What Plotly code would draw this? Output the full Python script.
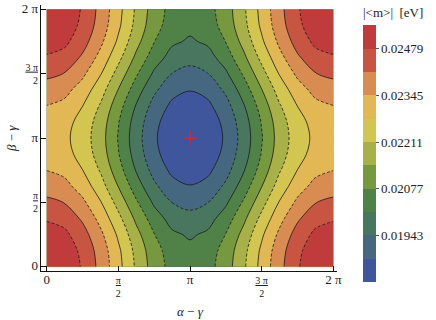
import plotly.graph_objects as go

# grid positions in units of pi
x_pi = [0, 0.125, 0.25, 0.375, 0.5, 0.625, 0.75, 0.875, 1.0,
        1.125, 1.25, 1.375, 1.5, 1.625, 1.75, 1.875, 2.0]
y_pi = [0, 0.125, 0.25, 0.375, 0.5, 0.625, 0.75, 0.875, 1.0,
        1.125, 1.25, 1.375, 1.5, 1.625, 1.75, 1.875, 2.0]

# |<m>| [eV], rows = beta-gamma, columns = alpha-gamma
m_eff = [
    [0.02545, 0.02528, 0.02472, 0.02392, 0.02300, 0.02200, 0.02112, 0.02054, 0.02035, 0.02054, 0.02112, 0.02200, 0.02300, 0.02392, 0.02472, 0.02528, 0.02545],
    [0.02536, 0.02519, 0.02463, 0.02384, 0.02291, 0.02191, 0.02103, 0.02045, 0.02026, 0.02045, 0.02103, 0.02191, 0.02291, 0.02384, 0.02463, 0.02519, 0.02536],
    [0.02510, 0.02494, 0.02439, 0.02360, 0.02267, 0.02166, 0.02079, 0.02021, 0.02002, 0.02021, 0.02079, 0.02166, 0.02267, 0.02360, 0.02439, 0.02494, 0.02510],
    [0.02472, 0.02455, 0.02402, 0.02324, 0.02230, 0.02129, 0.02042, 0.01985, 0.01965, 0.01985, 0.02042, 0.02129, 0.02230, 0.02324, 0.02402, 0.02455, 0.02472],
    [0.02427, 0.02410, 0.02359, 0.02283, 0.02186, 0.02086, 0.01999, 0.01942, 0.01922, 0.01942, 0.01999, 0.02086, 0.02186, 0.02283, 0.02359, 0.02410, 0.02427],
    [0.02382, 0.02366, 0.02315, 0.02241, 0.02142, 0.02042, 0.01956, 0.01898, 0.01879, 0.01898, 0.01956, 0.02042, 0.02142, 0.02241, 0.02315, 0.02366, 0.02382],
    [0.02344, 0.02327, 0.02279, 0.02205, 0.02105, 0.02005, 0.01919, 0.01862, 0.01842, 0.01862, 0.01919, 0.02005, 0.02105, 0.02205, 0.02279, 0.02327, 0.02344],
    [0.02318, 0.02302, 0.02254, 0.02181, 0.02081, 0.01980, 0.01895, 0.01838, 0.01818, 0.01838, 0.01895, 0.01980, 0.02081, 0.02181, 0.02254, 0.02302, 0.02318],
    [0.02309, 0.02293, 0.02245, 0.02173, 0.02072, 0.01971, 0.01886, 0.01829, 0.01810, 0.01829, 0.01886, 0.01971, 0.02072, 0.02173, 0.02245, 0.02293, 0.02309],
    [0.02318, 0.02302, 0.02254, 0.02181, 0.02081, 0.01980, 0.01895, 0.01838, 0.01818, 0.01838, 0.01895, 0.01980, 0.02081, 0.02181, 0.02254, 0.02302, 0.02318],
    [0.02344, 0.02327, 0.02279, 0.02205, 0.02105, 0.02005, 0.01919, 0.01862, 0.01842, 0.01862, 0.01919, 0.02005, 0.02105, 0.02205, 0.02279, 0.02327, 0.02344],
    [0.02382, 0.02366, 0.02315, 0.02241, 0.02142, 0.02042, 0.01956, 0.01898, 0.01879, 0.01898, 0.01956, 0.02042, 0.02142, 0.02241, 0.02315, 0.02366, 0.02382],
    [0.02427, 0.02410, 0.02359, 0.02283, 0.02186, 0.02086, 0.01999, 0.01942, 0.01922, 0.01942, 0.01999, 0.02086, 0.02186, 0.02283, 0.02359, 0.02410, 0.02427],
    [0.02472, 0.02455, 0.02402, 0.02324, 0.02230, 0.02129, 0.02042, 0.01985, 0.01965, 0.01985, 0.02042, 0.02129, 0.02230, 0.02324, 0.02402, 0.02455, 0.02472],
    [0.02510, 0.02494, 0.02439, 0.02360, 0.02267, 0.02166, 0.02079, 0.02021, 0.02002, 0.02021, 0.02079, 0.02166, 0.02267, 0.02360, 0.02439, 0.02494, 0.02510],
    [0.02536, 0.02519, 0.02463, 0.02384, 0.02291, 0.02191, 0.02103, 0.02045, 0.02026, 0.02045, 0.02103, 0.02191, 0.02291, 0.02384, 0.02463, 0.02519, 0.02536],
    [0.02545, 0.02528, 0.02472, 0.02392, 0.02300, 0.02200, 0.02112, 0.02054, 0.02035, 0.02054, 0.02112, 0.02200, 0.02300, 0.02392, 0.02472, 0.02528, 0.02545],
]

# contour levels
level_min = 0.01809
level_max = 0.02546
level_step = 0.00067
solid_start, solid_end = 0.01876, 0.02412
dash_start, dash_end = 0.01943, 0.02479

cb_tickvals = [0.01943, 0.02077, 0.02211, 0.02345, 0.02479]
cb_ticktext = ["0.01943", "0.02077", "0.02211", "0.02345", "0.02479"]

# band colors, lowest to highest
band_colors = ["#3f569c", "#456880", "#48765f", "#508248", "#76983e", "#a8b048",
               "#d2c650", "#e2b854", "#d88c52", "#c85442", "#c03c3c"]

min_point_x = [1.0]
min_point_y = [1.0]

tick_pi = [0, 0.5, 1, 1.5, 2]
big = "<span style='font-size:13px'>%s</span>"
tick_text = [big % "0", "<u>π</u><br>2", big % "π", "<u>3 π</u><br>2", big % "2 π"]

n = len(band_colors)
colorscale = [[0, band_colors[0]]]
for k, c in enumerate(band_colors):
    colorscale.append([(k + 0.5) / n, c])
colorscale.append([1, band_colors[-1]])

FONT = "Liberation Serif"

fig = go.Figure()
fig.add_trace(go.Contour(
    x=x_pi, y=y_pi, z=m_eff,
    colorscale=colorscale, zmin=level_min, zmax=level_max + 0.00001,
    autocontour=False,
    contours=dict(start=level_min, end=level_max, size=level_step,
                  coloring="fill", showlines=False),
    line=dict(width=0, smoothing=1.0),
    hoverinfo="skip",
    colorbar=dict(
        x=1.0878, xanchor="left", xpad=0,
        y=0.4417, yanchor="middle", ypad=0,
        len=257, lenmode="pixels", thickness=13, thicknessmode="pixels",
        outlinewidth=0, borderwidth=0,
        tickvals=cb_tickvals, ticktext=cb_ticktext,
        ticks="outside", ticklen=3, tickcolor="#555",
        tickfont=dict(family=FONT, size=13, color="#222"),
    ),
))
fig.add_trace(go.Contour(
    x=x_pi, y=y_pi, z=m_eff, autocontour=False, showscale=False,
    contours=dict(start=solid_start, end=solid_end, size=2 * level_step, coloring="none"),
    line=dict(color="#1a1a1a", width=0.8, smoothing=1.0),
    hoverinfo="skip",
))
fig.add_trace(go.Contour(
    x=x_pi, y=y_pi, z=m_eff, autocontour=False, showscale=False,
    contours=dict(start=dash_start, end=dash_end, size=2 * level_step, coloring="none"),
    line=dict(color="#1a1a1a", width=0.8, smoothing=1.0, dash="3px,2px"),
    hoverinfo="skip",
))
fig.add_trace(go.Scatter(
    x=min_point_x, y=min_point_y, mode="markers",
    marker=dict(symbol="cross-thin", size=10, line=dict(color="#e8202a", width=1.5)),
    hoverinfo="skip", showlegend=False,
))

xr = [-0.0398, 2.0258]
yr = [-0.0334, 2.0334]
PI = 3.141592653589793

common = dict(showgrid=False, zeroline=False, showline=True, linecolor="#111", linewidth=1)
fig.update_layout(
    width=436, height=320,
    margin=dict(l=41, r=99, t=5, b=49, autoexpand=False),
    paper_bgcolor="white", plot_bgcolor="white",
    showlegend=False,
    xaxis=dict(range=xr, tickvals=tick_pi, ticktext=tick_text, ticks="inside", ticklen=5,
               tickcolor="#111", tickfont=dict(family=FONT, size=10, color="#222"), **common),
    yaxis=dict(range=yr, tickvals=tick_pi, ticktext=tick_text, ticks="inside", ticklen=5,
               tickcolor="#111", tickfont=dict(family=FONT, size=10, color="#222"), **common),
    xaxis2=dict(range=[xr[0] * PI, xr[1] * PI], overlaying="x", side="top", anchor="y",
                showticklabels=False, ticks="inside", ticklen=4, tickcolor="#111", tick0=0, dtick=1,
                minor=dict(ticks="inside", ticklen=2, dtick=0.25, tick0=0, tickcolor="#111"), **common),
    yaxis2=dict(range=[yr[0] * PI, yr[1] * PI], overlaying="y", side="right", anchor="x",
                showticklabels=False, ticks="inside", ticklen=4, tickcolor="#111", tick0=0, dtick=1,
                minor=dict(ticks="inside", ticklen=2, dtick=0.25, tick0=0, tickcolor="#111"), **common),
    annotations=[
        dict(text="|&lt;m&gt;|&nbsp;&nbsp;[eV]", x=1.1892, y=0.97, xref="paper", yref="paper",
             xanchor="center", yanchor="middle", showarrow=False,
             font=dict(family=FONT, size=13, color="#222")),
        dict(text="<i>α</i> − <i>γ</i>", x=0.5034, y=-0.1504, xref="paper", yref="paper",
             xanchor="center", yanchor="middle", showarrow=False,
             font=dict(family=FONT, size=13, color="#222")),
        dict(text="<i>β</i> − <i>γ</i>", x=-0.1014, y=0.5, xref="paper", yref="paper",
             xanchor="center", yanchor="middle", showarrow=False, textangle=-90,
             font=dict(family=FONT, size=13, color="#222")),
    ],
)
fig.write_html("out.html", config={"displayModeBar": False},
               post_script="document.body.style.margin='0';")
